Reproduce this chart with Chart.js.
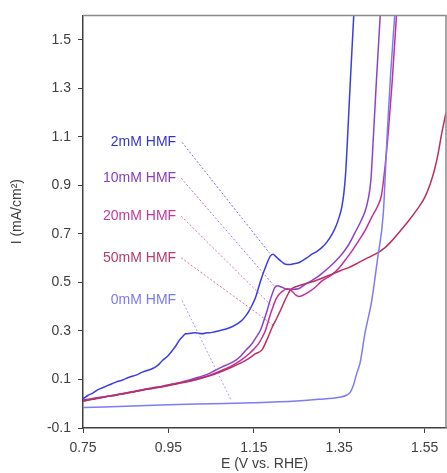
<!DOCTYPE html>
<html>
<head>
<meta charset="utf-8">
<script src="https://cdn.jsdelivr.net/npm/chart.js@4"></script>
<style>
    html, body { margin: 0; padding: 0; background: #fff; }
    #wrap { width: 447px; height: 473px; position: relative; }
</style>
</head>
<body>
<div id="wrap"><canvas id="cvChart"></canvas></div>
<script>
// potential (V vs. RHE) and current (mA/cm2) for each HMF concentration
const e0mM = [0.750, 0.850, 0.950, 1.050, 1.150, 1.250, 1.302, 1.350, 1.368, 1.376, 1.383, 1.391, 1.399, 1.410, 1.426, 1.436, 1.440, 1.453, 1.462, 1.470, 1.480];
const i0mM = [-0.016, -0.010, -0.004, 0.000, 0.004, 0.011, 0.018, 0.027, 0.036, 0.048, 0.075, 0.125, 0.170, 0.288, 0.424, 0.548, 0.600, 0.780, 1.100, 1.350, 1.600];

const e2mM = [0.750, 0.762, 0.773, 0.785, 0.796, 0.812, 0.827, 0.843, 0.858, 0.874, 0.889, 0.902, 0.912, 0.925, 0.936, 0.948, 0.959, 0.968, 0.975, 0.983, 0.990, 1.002, 1.013, 1.029, 1.040, 1.052, 1.069, 1.085, 1.100, 1.112, 1.123, 1.131, 1.139, 1.147, 1.154, 1.160, 1.166, 1.172, 1.177, 1.183, 1.189, 1.195, 1.201, 1.208, 1.216, 1.224, 1.236, 1.247, 1.255, 1.263, 1.275, 1.286, 1.298, 1.309, 1.321, 1.333, 1.342, 1.350, 1.356, 1.361, 1.365, 1.369, 1.376, 1.384];
const i2mM = [0.020, 0.035, 0.044, 0.058, 0.066, 0.078, 0.089, 0.098, 0.109, 0.118, 0.130, 0.138, 0.144, 0.158, 0.178, 0.196, 0.219, 0.240, 0.260, 0.276, 0.288, 0.290, 0.292, 0.288, 0.292, 0.294, 0.301, 0.308, 0.318, 0.330, 0.345, 0.362, 0.383, 0.410, 0.438, 0.472, 0.507, 0.538, 0.561, 0.588, 0.609, 0.616, 0.607, 0.596, 0.584, 0.575, 0.574, 0.578, 0.581, 0.589, 0.602, 0.616, 0.628, 0.643, 0.666, 0.698, 0.730, 0.770, 0.810, 0.870, 0.950, 1.080, 1.330, 1.600];

const e10mM = [0.750, 0.773, 0.796, 0.820, 0.843, 0.866, 0.889, 0.912, 0.936, 0.959, 0.982, 0.999, 1.022, 1.045, 1.060, 1.076, 1.092, 1.108, 1.120, 1.131, 1.146, 1.158, 1.166, 1.174, 1.181, 1.187, 1.193, 1.199, 1.205, 1.216, 1.228, 1.240, 1.255, 1.267, 1.278, 1.294, 1.309, 1.325, 1.340, 1.356, 1.372, 1.387, 1.400, 1.411, 1.418, 1.424, 1.430, 1.437, 1.446];
const i10mM = [0.015, 0.022, 0.028, 0.035, 0.042, 0.050, 0.058, 0.065, 0.072, 0.081, 0.090, 0.098, 0.110, 0.124, 0.138, 0.152, 0.164, 0.180, 0.198, 0.220, 0.248, 0.281, 0.305, 0.345, 0.383, 0.420, 0.452, 0.478, 0.486, 0.480, 0.472, 0.472, 0.474, 0.488, 0.500, 0.516, 0.536, 0.560, 0.585, 0.616, 0.655, 0.705, 0.750, 0.795, 0.845, 0.920, 1.100, 1.330, 1.600];

const e20mM = [0.750, 0.773, 0.796, 0.820, 0.843, 0.866, 0.889, 0.912, 0.936, 0.959, 0.982, 1.005, 1.029, 1.052, 1.076, 1.100, 1.120, 1.139, 1.150, 1.162, 1.170, 1.177, 1.183, 1.189, 1.195, 1.201, 1.208, 1.216, 1.228, 1.238, 1.247, 1.255, 1.266, 1.278, 1.294, 1.309, 1.333, 1.350, 1.364, 1.380, 1.395, 1.411, 1.425, 1.440, 1.449, 1.458, 1.465, 1.474, 1.484];
const i20mM = [0.012, 0.020, 0.027, 0.034, 0.041, 0.049, 0.057, 0.064, 0.071, 0.080, 0.088, 0.097, 0.108, 0.121, 0.138, 0.158, 0.180, 0.206, 0.225, 0.250, 0.275, 0.301, 0.335, 0.370, 0.400, 0.428, 0.448, 0.462, 0.474, 0.466, 0.450, 0.442, 0.448, 0.460, 0.480, 0.505, 0.532, 0.560, 0.592, 0.630, 0.670, 0.715, 0.765, 0.815, 0.860, 0.990, 1.123, 1.328, 1.600];

const e50mM = [0.750, 0.773, 0.796, 0.820, 0.843, 0.866, 0.889, 0.912, 0.936, 0.959, 0.982, 1.005, 1.029, 1.052, 1.076, 1.095, 1.115, 1.135, 1.154, 1.169, 1.181, 1.193, 1.203, 1.212, 1.220, 1.228, 1.236, 1.245, 1.255, 1.275, 1.294, 1.314, 1.333, 1.352, 1.372, 1.392, 1.411, 1.434, 1.455, 1.473, 1.492, 1.512, 1.532, 1.550, 1.563, 1.574, 1.582, 1.589, 1.600];
const i50mM = [0.010, 0.018, 0.026, 0.033, 0.040, 0.048, 0.056, 0.063, 0.070, 0.078, 0.086, 0.095, 0.106, 0.118, 0.134, 0.148, 0.164, 0.183, 0.206, 0.222, 0.265, 0.315, 0.350, 0.383, 0.415, 0.445, 0.470, 0.480, 0.486, 0.497, 0.507, 0.520, 0.534, 0.548, 0.561, 0.578, 0.596, 0.616, 0.640, 0.671, 0.710, 0.753, 0.800, 0.849, 0.905, 0.970, 1.035, 1.105, 1.200];

const xTicks = [0.75, 0.95, 1.15, 1.35, 1.55];
const yTicks = [-0.1, 0.1, 0.3, 0.5, 0.7, 0.9, 1.1, 1.3, 1.5];

// callout labels: text right edge / leader line start and end (data units)
const labelNames = ['2mM HMF', '10mM HMF', '20mM HMF', '50mM HMF', '0mM HMF'];
const labelColors = ['#3434d4', '#8a3ec2', '#c03a9e', '#bc3a68', '#7a7af2'];
const labelX = [0.968, 0.968, 0.968, 0.968, 0.968];
const labelY = [1.077, 0.929, 0.773, 0.601, 0.425];
const leadStartX = [0.982, 0.980, 0.980, 0.980, 0.982];
const leadEndX = [1.187, 1.201, 1.189, 1.197, 1.097];
const leadEndY = [0.620, 0.479, 0.408, 0.322, 0.014];

function toPoints(xs, ys) {
    return xs.map((x, i) => ({ x: x, y: ys[i] }));
}

document.addEventListener('DOMContentLoaded', function() {
    const ctx = document.getElementById('cvChart').getContext('2d');
    if (typeof Chart === 'undefined') {
        console.error('Chart.js is not loaded.');
        return;
    }

    const FONT = 'Liberation Sans, Arial, sans-serif';

    // draws the frame, the y title and the callout labels
    const calloutPlugin = {
        id: 'callouts',
        afterDatasetsDraw(chart) {
            const c = chart.ctx;
            const xs = chart.scales.x;
            const ys = chart.scales.y;
            const a = chart.chartArea;
            c.save();
            // top and right frame
            c.strokeStyle = '#8a8a8a';
            c.lineWidth = 1.5;
            c.beginPath();
            c.moveTo(a.left, a.top);
            c.lineTo(a.right, a.top);
            c.lineTo(a.right, a.bottom);
            c.stroke();

            c.font = '14px ' + FONT;
            c.textAlign = 'right';
            c.textBaseline = 'middle';
            labelNames.forEach((name, i) => {
                const ly = ys.getPixelForValue(labelY[i]);
                c.fillStyle = labelColors[i];
                c.fillText(name, xs.getPixelForValue(labelX[i]), ly);
                c.strokeStyle = labelColors[i];
                c.globalAlpha = 0.7;
                c.lineWidth = 1;
                c.setLineDash([2, 2]);
                c.beginPath();
                c.moveTo(xs.getPixelForValue(leadStartX[i]), ly);
                c.lineTo(xs.getPixelForValue(leadEndX[i]), ys.getPixelForValue(leadEndY[i]));
                c.stroke();
                c.setLineDash([]);
                c.globalAlpha = 1;
            });

            // y axis title
            c.translate(17, (a.top + a.bottom) / 2 - 10);
            c.rotate(-Math.PI / 2);
            c.textAlign = 'center';
            c.fillStyle = '#404040';
            c.fillText('I (mA/cm\u00B2)', 0, 0);
            c.restore();
        }
    };

    function series(label, xs, ys, color) {
        return {
            label: label,
            data: toPoints(xs, ys),
            borderColor: color,
            backgroundColor: color,
            borderWidth: 1.5,
            pointRadius: 0,
            showLine: true,
            fill: false,
            cubicInterpolationMode: 'monotone'
        };
    }

    const ivChart = new Chart(ctx, {
        type: 'scatter',
        data: {
            datasets: [
                series('0mM HMF', e0mM, i0mM, '#7c7cf6'),
                series('50mM HMF', e50mM, i50mM, '#b8305e'),
                series('20mM HMF', e20mM, i20mM, '#c4309a'),
                series('10mM HMF', e10mM, i10mM, '#8a44cc'),
                series('2mM HMF', e2mM, i2mM, '#3c3ce2')
            ]
        },
        plugins: [calloutPlugin],
        options: {
            responsive: true,
            maintainAspectRatio: false,
            animation: false,
            layout: { padding: { top: 13, right: 1, left: 0, bottom: 0 } },
            scales: {
                x: {
                    type: 'linear',
                    min: 0.75,
                    max: 1.6,
                    afterBuildTicks: s => { s.ticks = xTicks.map(v => ({ value: v })); },
                    afterFit: s => { s.height = 45; },
                    grid: { drawOnChartArea: false, drawTicks: true, tickLength: 5, color: '#404040' },
                    border: { display: true, color: '#404040', width: 1.5 },
                    ticks: {
                        color: '#404040',
                        padding: 7,
                        font: { family: FONT, size: 14 },
                        callback: v => v.toFixed(2)
                    },
                    title: {
                        display: true,
                        text: 'E (V vs. RHE)',
                        color: '#404040',
                        padding: { top: 0, bottom: 0 },
                        font: { family: FONT, size: 14 }
                    }
                },
                y: {
                    type: 'linear',
                    min: -0.1,
                    max: 1.6,
                    afterBuildTicks: s => { s.ticks = yTicks.map(v => ({ value: v })); },
                    afterFit: s => { s.width = 83; },
                    grid: { drawOnChartArea: false, drawTicks: true, tickLength: 5, color: '#404040' },
                    border: { display: true, color: '#404040', width: 1.5 },
                    ticks: {
                        color: '#404040',
                        padding: 7,
                        font: { family: FONT, size: 14 },
                        callback: v => v.toFixed(1)
                    }
                }
            },
            plugins: {
                legend: { display: false },
                tooltip: { enabled: false }
            }
        }
    });
});
</script>
</body>
</html>
